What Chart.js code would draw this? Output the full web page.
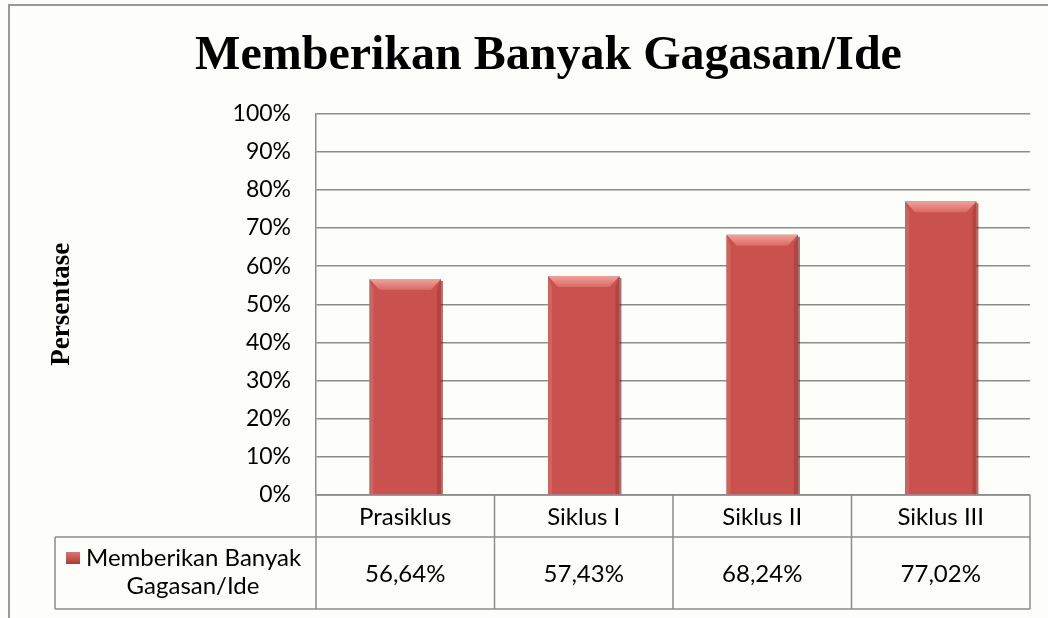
<!DOCTYPE html>
<html>
<head>
<meta charset="utf-8">
<script src="https://cdn.jsdelivr.net/npm/chart.js@4.4.1/dist/chart.umd.min.js"></script>
<style>
  html, body { margin: 0; padding: 0; background: #fff; }
  #wrap { width: 1048px; height: 618px; }
</style>
</head>
<body>
<div id="wrap"><canvas id="Chart1" width="1048" height="618"></canvas></div>
<script>
// data
var categories = ['Prasiklus', 'Siklus I', 'Siklus II', 'Siklus III'];
var seriesName = 'Memberikan Banyak Gagasan/Ide';
var seriesLines = ['Memberikan Banyak', 'Gagasan/Ide'];
var values = [56.64, 57.43, 68.24, 77.02];
var yTicks = [0, 10, 20, 30, 40, 50, 60, 70, 80, 90, 100];

var lineGray = '#8c8c8c';
var labelFont = 'Lato, "Open Sans", sans-serif';

function fmtPct(v) {
    return v.toFixed(2).replace('.', ',') + '%';
}

// background + outer frame
var framePlugin = {
    id: 'frame',
    beforeDraw: function (chart) {
        var ctx = chart.ctx;
        ctx.save();
        ctx.fillStyle = '#fdfdfa';
        ctx.fillRect(0, 0, chart.width, chart.height);
        ctx.strokeStyle = '#999';
        ctx.lineWidth = 2;
        ctx.beginPath();
        ctx.moveTo(9, chart.height);
        ctx.lineTo(9, 5);
        ctx.lineTo(chart.width, 5);
        ctx.stroke();
        ctx.restore();
    }
};

// bevel look on the bars
var bevelPlugin = {
    id: 'bevel',
    afterDatasetsDraw: function (chart) {
        var ctx = chart.ctx;
        chart.getDatasetMeta(0).data.forEach(function (bar) {
            var l = bar.x - bar.width / 2, r = bar.x + bar.width / 2;
            var t = bar.y, b = bar.base, d = 11, s = 4;
            ctx.save();
            // shadow
            ctx.fillStyle = 'rgba(60,20,20,0.55)';
            ctx.fillRect(r, t + 2, 2, b - t - 2);
            // right side darker
            ctx.fillStyle = '#b4443f';
            ctx.beginPath();
            ctx.moveTo(r, t); ctx.lineTo(r, b); ctx.lineTo(r - s, b); ctx.lineTo(r - s, t + d);
            ctx.closePath(); ctx.fill();
            // left side lighter
            ctx.fillStyle = '#d4615b';
            ctx.beginPath();
            ctx.moveTo(l, t); ctx.lineTo(l + s, t + d); ctx.lineTo(l + s, b); ctx.lineTo(l, b);
            ctx.closePath(); ctx.fill();
            // top bevel
            var g = ctx.createLinearGradient(0, t, 0, t + d);
            g.addColorStop(0, '#f4a19a');
            g.addColorStop(1, '#d96a63');
            ctx.fillStyle = g;
            ctx.beginPath();
            ctx.moveTo(l, t); ctx.lineTo(r, t); ctx.lineTo(r - s - 6, t + d); ctx.lineTo(l + s + 6, t + d);
            ctx.closePath(); ctx.fill();
            ctx.restore();
        });
    }
};

// data table under the plot
var tablePlugin = {
    id: 'dataTable',
    afterDraw: function (chart) {
        var ctx = chart.ctx, area = chart.chartArea, xs = chart.scales.x;
        var n = categories.length;
        var step = area.width / n;
        var top = area.bottom, rowY = top + 42, bottom = top + 114, left = 55;
        ctx.save();
        ctx.strokeStyle = lineGray;
        ctx.lineWidth = 1.5;
        ctx.beginPath();
        ctx.moveTo(area.left, top); ctx.lineTo(area.right, top);
        ctx.moveTo(left, rowY); ctx.lineTo(area.right, rowY);
        ctx.moveTo(left, bottom); ctx.lineTo(area.right, bottom);
        ctx.moveTo(left, rowY); ctx.lineTo(left, bottom);
        for (var i = 0; i <= n; i++) {
            var bx = area.left + i * step;
            ctx.moveTo(bx, top); ctx.lineTo(bx, bottom);
        }
        ctx.stroke();

        ctx.fillStyle = '#000';
        ctx.font = '24px ' + labelFont;
        ctx.textAlign = 'center';
        ctx.textBaseline = 'middle';
        categories.forEach(function (c, i) {
            var cx = xs.getPixelForValue(i);
            ctx.fillText(c, cx, (top + rowY) / 2 + 1);
            ctx.fillText(fmtPct(values[i]), cx, (rowY + bottom) / 2 + 1);
        });

        // legend key + series name
        var ky = rowY + 15;
        var kg = ctx.createLinearGradient(0, ky, 0, ky + 12);
        kg.addColorStop(0, '#e0736c');
        kg.addColorStop(1, '#a83c37');
        ctx.fillStyle = kg;
        ctx.fillRect(66, ky, 14, 12);
        ctx.fillStyle = '#000';
        ctx.textAlign = 'left';
        ctx.fillText(seriesLines[0], 86, rowY + 21);
        ctx.textAlign = 'center';
        ctx.fillText(seriesLines[1], 193, rowY + 49);
        ctx.restore();
    }
};

var ctx = document.getElementById('Chart1');
var chart = new Chart(ctx, {
    type: 'bar',
    data: {
        labels: categories,
        datasets: [{
            label: seriesName,
            data: values,
            backgroundColor: '#c9524e',
            borderWidth: 0,
            barPercentage: 0.4,
            categoryPercentage: 1
        }]
    },
    options: {
        responsive: false,
        animation: false,
        layout: {
            padding: { left: 67, right: 18, top: 8, bottom: 0 }
        },
        plugins: {
            legend: { display: false },
            tooltip: { enabled: false },
            title: {
                display: true,
                text: 'Memberikan Banyak Gagasan/Ide',
                color: '#000',
                font: { family: '"Liberation Serif", "Times New Roman", serif', size: 48, weight: 'bold' },
                padding: { top: 20, bottom: 28 }
            }
        },
        scales: {
            x: {
                display: true,
                grid: { display: false },
                border: { display: false },
                ticks: { display: false },
                afterFit: function (s) { s.height = 123; }
            },
            y: {
                min: 0,
                max: 100,
                afterFit: function (s) { s.width = 249; },
                afterBuildTicks: function (s) {
                    s.ticks = yTicks.map(function (v) { return { value: v }; });
                },
                grid: { color: lineGray, lineWidth: 1.5, drawTicks: false },
                border: { color: lineGray, width: 1.5 },
                ticks: {
                    padding: 25,
                    color: '#000',
                    font: { family: labelFont, size: 23 },
                    callback: function (v) { return v + '%'; }
                },
                title: {
                    display: true,
                    text: 'Persentase',
                    color: '#000',
                    font: { family: '"Liberation Serif", "Times New Roman", serif', size: 27, weight: 'bold' },
                    padding: { top: -21, bottom: 0 }
                }
            }
        }
    },
    plugins: [framePlugin, bevelPlugin, tablePlugin]
});
</script>
</body>
</html>
